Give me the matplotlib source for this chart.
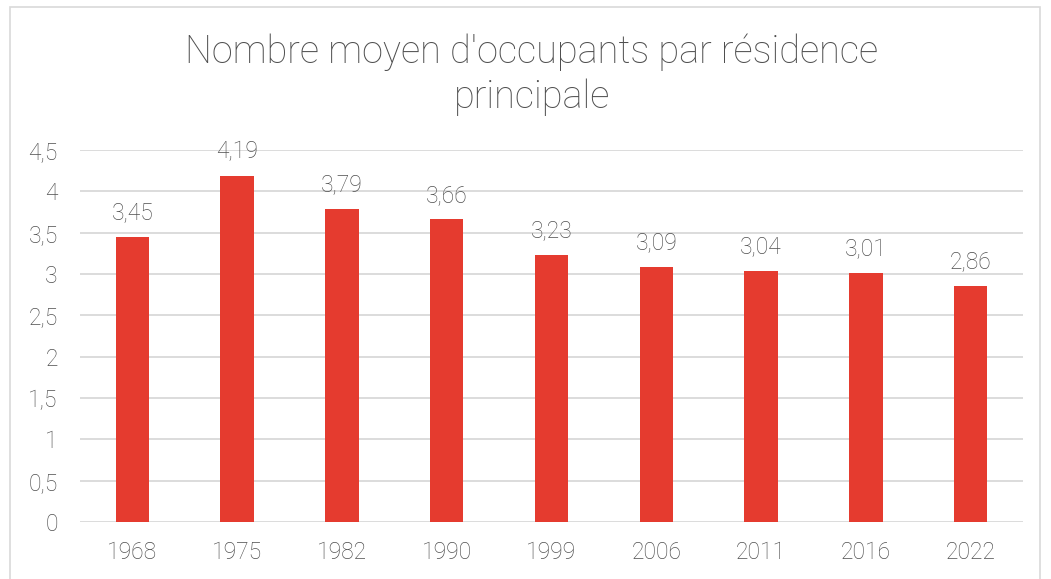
import matplotlib
matplotlib.use("Agg")
import matplotlib.pyplot as plt
from matplotlib.patches import Rectangle

plt.rcParams['font.family'] = ['Roboto', 'DejaVu Sans']

years = ['1968', '1975', '1982', '1990', '1999', '2006', '2011', '2016', '2022']
occupants = [3.45, 4.19, 3.79, 3.66, 3.23, 3.09, 3.04, 3.01, 2.86]
yticks = [0, 0.5, 1, 1.5, 2, 2.5, 3, 3.5, 4, 4.5]
title_lines = ["Nombre moyen d'occupants par résidence", "principale"]

red = '#E53B2F'
grey = '#4F4F4F'
grid = '#D9D9D9'

W, H = 1051, 579
fig = plt.figure(figsize=(W / 100, H / 100), dpi=100)
fig.patches.append(Rectangle((10 / W, -0.01), 1030 / W, 1 - 7 / H + 0.01, transform=fig.transFigure,
                             fill=False, edgecolor=grid, linewidth=1.2))

ax = fig.add_axes([80 / W, 1 - 522 / H, (1023 - 80) / W, (522 - 150) / H])
x = range(len(years))
ax.bar(x, occupants, width=0.32, color=red, zorder=2)
ax.set_xlim(-0.5, len(years) - 0.5)
ax.set_ylim(0, 4.5)
ax.set_yticks(yticks)
ax.set_yticklabels([f'{v:g}'.replace('.', ',') for v in yticks])
ax.set_xticks(list(x))
ax.set_xticklabels(years)
ax.grid(axis='y', color=grid, linewidth=1.3, zorder=0)
for s in ax.spines.values():
    s.set_visible(False)
ax.tick_params(length=0, labelsize=16.5, labelcolor=grey)
ax.tick_params(axis='y', pad=16)
ax.tick_params(axis='x', pad=14)
for lab in ax.get_xticklabels() + ax.get_yticklabels():
    lab.set_fontweight('light')

for i, v in enumerate(occupants):
    ax.annotate(f'{v:.2f}'.replace('.', ','), (i, v), xytext=(0, 9), textcoords='offset points',
                ha='center', va='bottom', fontsize=16.5, color=grey, fontweight='light')

# title, one line at a time (Excel wraps it)
for line, base in zip(title_lines, [63, 108]):
    fig.text(532 / W, 1 - base / H, line, ha='center', va='baseline',
             fontsize=27.3, color=grey, fontweight='light')

fig.savefig('out.png', dpi=100, facecolor='white')
